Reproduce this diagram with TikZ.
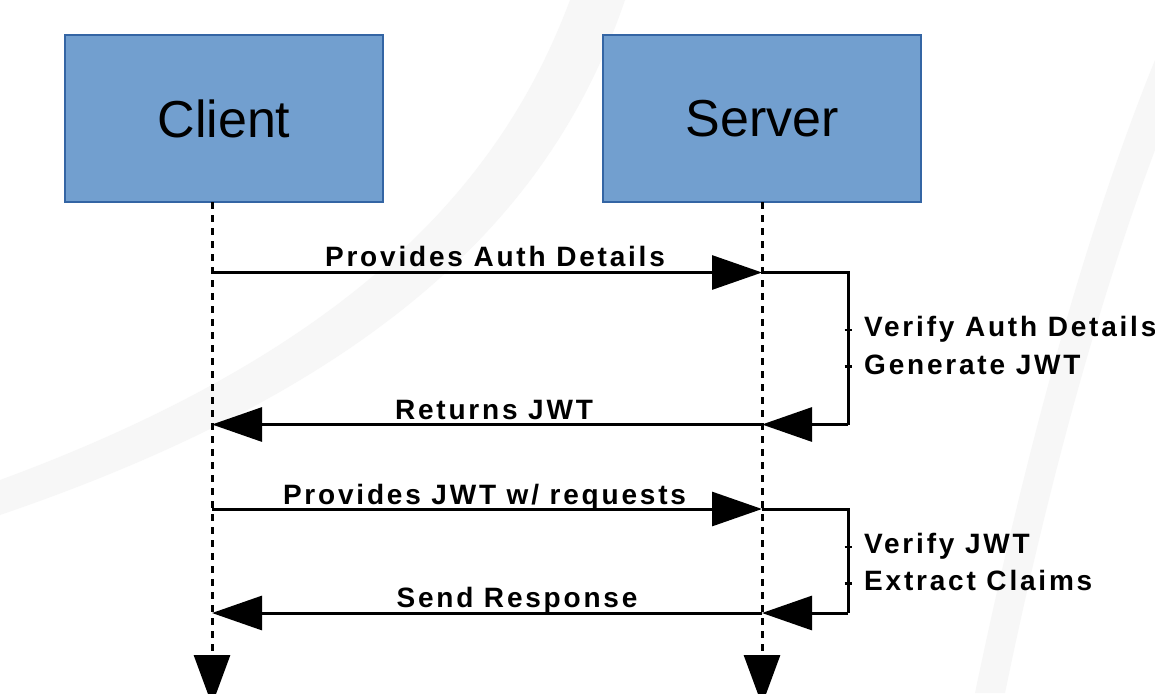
\documentclass[tikz,border=0pt]{standalone}
\usepackage{fontspec}
\setmainfont{Liberation Sans}
\newfontfamily\lblfont[LetterSpace=10]{Liberation Sans}
\usetikzlibrary{arrows.meta}
\definecolor{boxfill}{HTML}{729FCF}
\definecolor{boxline}{HTML}{3465A4}
\definecolor{swoosh}{HTML}{F7F7F7}
\tikzset{
  actor/.style={draw=boxline, line width=1.5pt, fill=boxfill, minimum width=318pt, minimum height=167pt, inner sep=0pt, font=\fontsize{52}{60}\selectfont},
  lifeline/.style={line width=3pt, dash pattern=on 7pt off 6pt, -{Triangle[length=50pt,width=36pt]}},
  msg/.style={line width=3pt, -{Triangle[length=50pt,width=34pt]}},
  loopline/.style={line width=3pt},
  msglabel/.style={anchor=base, inner sep=0pt, font=\lblfont\bfseries\fontsize{28}{34}\selectfont},
  notelabel/.style={anchor=base west, inner sep=0pt, font=\lblfont\bfseries\fontsize{28}{34}\selectfont},
  tick/.style={line width=2.7pt}
}
\begin{document}
\begin{tikzpicture}[x=1pt, y=-1pt]
\useasboundingbox (0,0) rectangle (1155,693);
\fill[white] (0,0) rectangle (1155,693);
% faint background swooshes
\fill[swoosh] (570,0) .. controls (510,160) and (380,340) .. (0,480) -- (0,515) .. controls (410,375) and (560,190) .. (625,0) -- cycle;
\fill[swoosh] (1155,60) .. controls (1090,220) and (1030,430) .. (975,693) -- (1005,693) .. controls (1055,450) and (1110,270) .. (1155,150) -- cycle;

% actors
\node[actor] (client) at (224,118.5) {Client};
\node[actor] (server) at (762,118.5) {Server};

% lifeline coordinates
\coordinate (ctop) at (212,202);
\coordinate (cend) at (212,705);
\coordinate (stop) at (762,202);
\coordinate (send) at (762,705);
\draw[lifeline] (ctop) -- (cend);
\draw[lifeline] (stop) -- (send);

% message coordinates
\coordinate (c1) at (212,272.5);
\coordinate (s1) at (762,272.5);
\coordinate (c2) at (212,424.5);
\coordinate (s2) at (762,424.5);
\coordinate (c3) at (212,509);
\coordinate (s3) at (762,509);
\coordinate (c4) at (212,613);
\coordinate (s4) at (762,613);
\coordinate (r1) at (848,272.5);
\coordinate (r2) at (848,424.5);
\coordinate (r3) at (848,509);
\coordinate (r4) at (848,613);

% messages
\draw[msg] (c1) -- (s1);
\draw[loopline] (s1) -- (r1) -- (r2);
\draw[msg] (r2) -- (s2);
\draw[msg] (s2) -- (c2);

\draw[msg] (c3) -- (s3);
\draw[loopline] (s3) -- (r3) -- (r4);
\draw[msg] (r4) -- (s4);
\draw[msg] (s4) -- (c4);

% ticks on self loops
\coordinate (t1a) at (848,330);
\coordinate (t1b) at (848,366.7);
\coordinate (t2a) at (848,547);
\coordinate (t2b) at (848,583.5);
\foreach \t in {t1a,t1b,t2a,t2b} {
  \draw[tick] ([xshift=-3.5pt]\t) -- ([xshift=3.5pt]\t);
}

% labels
\node[msglabel] (l1) at (495,266.5) {Provides Auth Details};
\node[msglabel] (l2) at (494,419) {Returns JWT};
\node[msglabel] (l3) at (484.5,504) {Provides JWT w/ requests};
\node[msglabel] (l4) at (517,607.5) {Send Response};
\node[notelabel] (n1) at (864,336.7) {Verify Auth Details};
\node[notelabel] (n2) at (864,374) {Generate JWT};
\node[notelabel] (n3) at (864,553.5) {Verify JWT};
\node[notelabel] (n4) at (864,590.5) {Extract Claims};
\end{tikzpicture}
\end{document}
